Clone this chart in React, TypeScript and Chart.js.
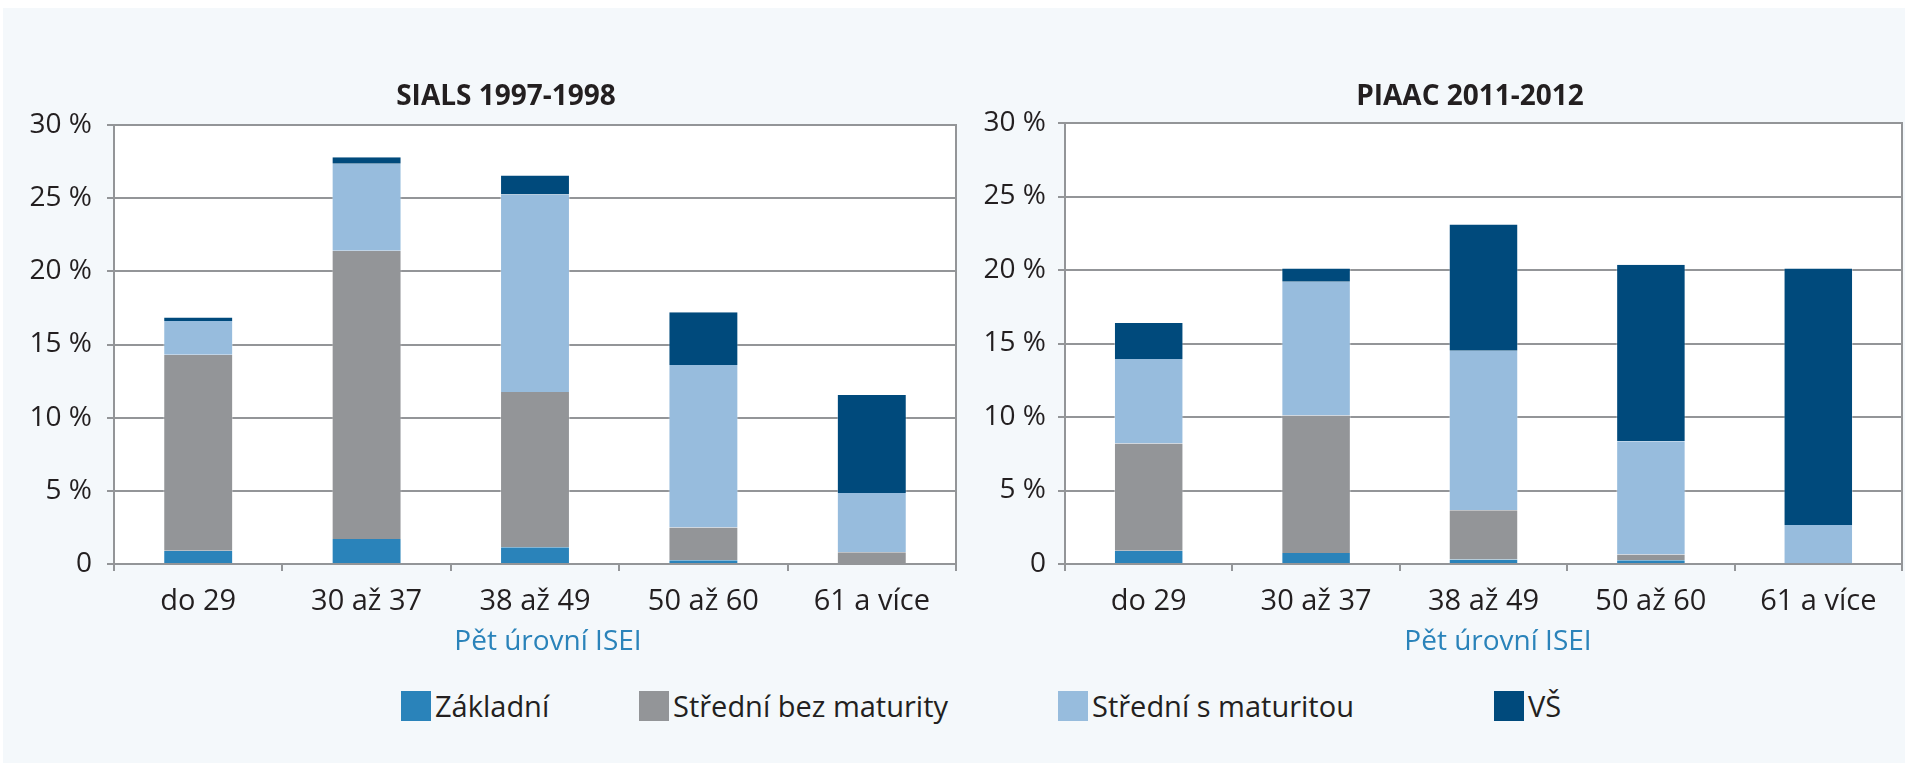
import React, { useEffect, useRef } from "react";
import { Chart, registerables } from "chart.js";

Chart.register(...registerables);

const categories = ["do 29", "30 až 37", "38 až 49", "50 až 60", "61 a více"];
const seriesNames = ["Základní", "Střední bez maturity", "Střední s maturitou", "VŠ"];
const seriesColors = ["#2a83ba", "#939598", "#97bcdd", "#004a7c"];

const sialsZakladni = [0.9, 1.7, 1.15, 0.25, 0];
const sialsStredniBez = [13.4, 19.7, 10.6, 2.25, 0.8];
const sialsStredniS = [2.3, 5.95, 13.5, 11.1, 4.05];
const sialsVS = [0.25, 0.45, 1.3, 3.6, 6.7];

const piaacZakladni = [0.9, 0.75, 0.3, 0.25, 0];
const piaacStredniBez = [7.3, 9.35, 3.35, 0.4, 0.05];
const piaacStredniS = [5.75, 9.1, 10.85, 7.7, 2.6];
const piaacVS = [2.45, 0.9, 8.6, 12.0, 17.45];

const yTicks = [0, 5, 10, 15, 20, 25, 30];

const FONT = "'Open Sans', 'DejaVu Sans', sans-serif";
const GRID = "#939598";
const TEXT = "#231f20";

const plotBg = {
  id: "plotBg",
  beforeDraw(chart: any) {
    const { ctx, chartArea } = chart;
    ctx.save();
    ctx.fillStyle = "#ffffff";
    ctx.fillRect(chartArea.left, chartArea.top, chartArea.right - chartArea.left, chartArea.bottom - chartArea.top);
    ctx.restore();
  },
  afterDraw(chart: any) {
    const { ctx, chartArea } = chart;
    ctx.save();
    ctx.strokeStyle = GRID;
    ctx.lineWidth = 2;
    ctx.beginPath();
    ctx.moveTo(chartArea.right, chartArea.top - 1);
    ctx.lineTo(chartArea.right, chartArea.bottom);
    ctx.stroke();
    ctx.restore();
  },
};

function makeConfig(data: number[][], yAxisWidth: number, pad: any, xAxisHeight: number, labelPad: number) {
  return {
    type: "bar",
    data: {
      labels: categories,
      datasets: data.map((vals, i) => ({
        label: seriesNames[i],
        data: vals,
        backgroundColor: seriesColors[i],
        borderColor: "rgba(255,255,255,0.35)",
        borderWidth: { left: 1, right: 1, top: 0, bottom: 0 },
        borderSkipped: false,
        barPercentage: 0.415,
        categoryPercentage: 1,
      })),
    },
    options: {
      animation: false,
      responsive: false,
      maintainAspectRatio: false,
      layout: { padding: pad },
      plugins: { legend: { display: false }, title: { display: false }, tooltip: { enabled: false } },
      scales: {
        x: {
          stacked: true,
          offset: true,
          grid: { drawOnChartArea: false, drawTicks: true, tickLength: 7, color: GRID, lineWidth: 2, offset: true },
          border: { display: true, color: GRID, width: 2 },
          ticks: { font: { family: FONT, size: 29 }, color: TEXT, padding: 13, maxRotation: 0, autoSkip: false },
          afterFit(scale: any) {
            scale.height = xAxisHeight;
          },
        },
        y: {
          stacked: true,
          min: 0,
          max: 30,
          afterBuildTicks(scale: any) {
            scale.ticks = yTicks.map((v) => ({ value: v }));
          },
          grid: { color: GRID, lineWidth: 2, tickLength: 7, drawTicks: true },
          border: { display: true, color: GRID, width: 2 },
          ticks: {
            font: { family: FONT, size: 28 },
            color: TEXT,
            padding: labelPad,
            callback: (v: any) => (v === 0 ? "0" : v + " %"),
          },
          afterFit(scale: any) {
            scale.width = yAxisWidth;
          },
        },
      },
    },
    plugins: [plotBg],
  };
}

function ChartCanvas(props: { left: number; width: number; height: number; config: any }) {
  const ref = useRef<HTMLCanvasElement | null>(null);
  useEffect(() => {
    const chart = new Chart(ref.current as HTMLCanvasElement, props.config);
    return () => chart.destroy();
  }, []);
  return (
    <canvas
      ref={ref}
      width={props.width}
      height={props.height}
      style={{ position: "absolute", left: props.left, top: 0, width: props.width, height: props.height }}
    />
  );
}

const textStyle = (x: number, y: number, extra: any = {}) => ({
  position: "absolute" as const,
  left: x,
  top: y,
  fontFamily: FONT,
  fontSize: 28,
  lineHeight: "28px",
  color: TEXT,
  whiteSpace: "nowrap" as const,
  ...extra,
});

const legendX = [401, 639, 1058, 1494];

export default function App() {
  const H = 680;
  const leftCfg = makeConfig(
    [sialsZakladni, sialsStredniBez, sialsStredniS, sialsVS],
    114,
    { left: 0, right: 4, top: 125, bottom: 0 },
    H - 564,
    15
  );
  const rightCfg = makeConfig(
    [piaacZakladni, piaacStredniBez, piaacStredniS, piaacVS],
    105,
    { left: 0, right: 3, top: 123, bottom: 0 },
    H - 564,
    12
  );
  return (
    <div style={{ position: "absolute", left: 0, top: 0, width: 1905, height: 763, background: "#ffffff", overflow: "hidden" }}>
      <div style={{ position: "absolute", left: 3, top: 8, width: 1902, height: 755, background: "#f4f8fb" }} />
      <ChartCanvas left={0} width={960} height={H} config={leftCfg} />
      <ChartCanvas left={960} width={945} height={H} config={rightCfg} />
      <div style={textStyle(506, 80, { transform: "translateX(-50%)", fontWeight: 700 })}>SIALS 1997-1998</div>
      <div style={textStyle(1470, 80, { transform: "translateX(-50%)", fontWeight: 700 })}>PIAAC 2011-2012</div>
      <div style={textStyle(548, 625, { transform: "translateX(-50%)", color: "#2a83ba" })}>Pět úrovní ISEI</div>
      <div style={textStyle(1498, 625, { transform: "translateX(-50%)", color: "#2a83ba" })}>Pět úrovní ISEI</div>
      {seriesNames.map((name, i) => (
        <div key={name} style={{ position: "absolute", left: legendX[i], top: 691, height: 30, display: "flex", alignItems: "center" }}>
          <div style={{ width: 30, height: 30, background: seriesColors[i] }} />
          <div style={{ marginLeft: 4, fontFamily: FONT, fontSize: 29, lineHeight: "30px", color: TEXT, whiteSpace: "nowrap" }}>{name}</div>
        </div>
      ))}
    </div>
  );
}
